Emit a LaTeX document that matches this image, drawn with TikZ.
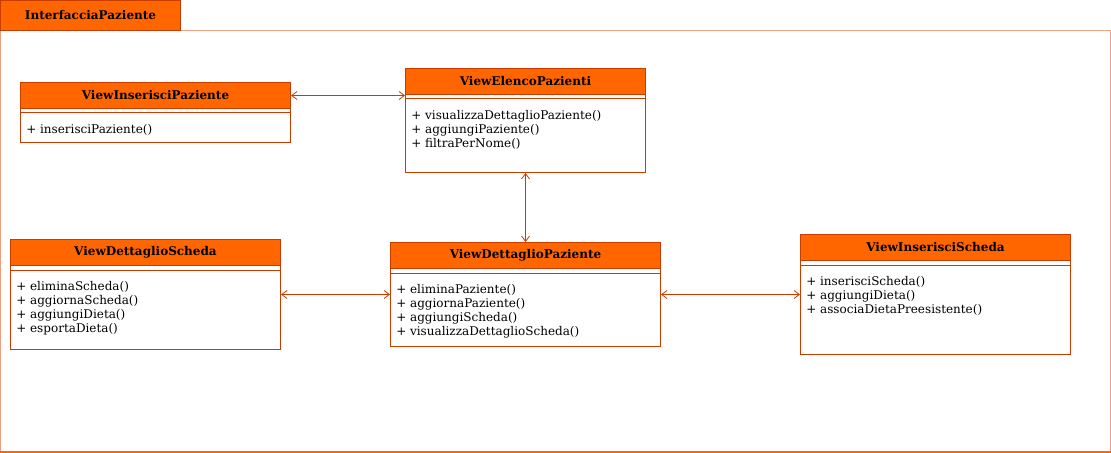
\documentclass[tikz,border=0pt]{standalone}
\usepackage{fontspec}
\setmainfont{DejaVu Serif}
\usetikzlibrary{arrows.meta, positioning}
\definecolor{umlfill}{HTML}{FF6600}
\definecolor{umlline}{HTML}{C83C00}
\definecolor{pkgline}{HTML}{F0A080}

\begin{document}
\begin{tikzpicture}[x=0.75pt, y=-0.75pt,
  cls/.style={rectangle, draw=umlline, fill=white, line width=0.75pt,
    anchor=north west, inner sep=0pt, minimum width=202.5pt},
  head/.style={rectangle, draw=umlline, fill=umlfill, line width=0.75pt,
    minimum height=19.5pt, minimum width=202.5pt, inner sep=0pt, anchor=north,
    font=\fontsize{9}{11}\selectfont\bfseries},
  ops/.style={anchor=north west, align=left, inner sep=0pt,
    font=\fontsize{9}{10.5}\selectfont},
  assoc/.style={draw=umlline, line width=0.6pt,
    {Straight Barb[length=4pt,width=6pt]}-{Straight Barb[length=4pt,width=6pt]}},
  sep/.style={draw=umlline, line width=0.75pt},
]
  \useasboundingbox (0,0) rectangle (1111,453);

  % package frame
  \node[rectangle, draw=pkgline, line width=0.75pt, anchor=north west, inner sep=0pt,
    minimum width=832.5pt, minimum height=315.75pt] (pkg) at (0,30) {};
  \draw[umlfill, line width=1.5pt] (pkg.south west) -- (pkg.south east);
  \node[rectangle, draw=umlline, fill=umlfill, line width=0.75pt, anchor=north west,
    inner sep=0pt, minimum width=135pt, minimum height=22.5pt,
    font=\fontsize{9}{11}\selectfont\bfseries] (pkgTab) at (0,0) {InterfacciaPaziente};

  % ViewInserisciPaziente
  \node[cls, minimum height=45pt] (vip) at (20,82) {};
  \node[head] (vipH) at (vip.north) {ViewInserisciPaziente};
  \draw[sep] ([yshift=-3pt]vipH.south west) -- ([yshift=-3pt]vipH.south east);
  \node[ops] (vipOps) at ([xshift=4.5pt, yshift=-11pt]vipH.south west)
    {+ inserisciPaziente()};

  % ViewElencoPazienti
  \node[cls, minimum width=180pt, minimum height=78pt] (vep) at (405,68) {};
  \node[head, minimum width=180pt] (vepH) at (vep.north) {ViewElencoPazienti};
  \draw[sep] ([yshift=-3pt]vepH.south west) -- ([yshift=-3pt]vepH.south east);
  \node[ops] (vepOps) at ([xshift=4.5pt, yshift=-11pt]vepH.south west)
    {+ visualizzaDettaglioPaziente()\\+ aggiungiPaziente()\\+ filtraPerNome()};

  % ViewDettaglioScheda
  \node[cls, minimum height=82.5pt] (vds) at (10,239) {};
  \node[head] (vdsH) at (vds.north) {ViewDettaglioScheda};
  \draw[sep] ([yshift=-3pt]vdsH.south west) -- ([yshift=-3pt]vdsH.south east);
  \node[ops] (vdsOps) at ([xshift=4.5pt, yshift=-11pt]vdsH.south west)
    {+ eliminaScheda()\\+ aggiornaScheda()\\+ aggiungiDieta()\\+ esportaDieta()};

  % ViewDettaglioPaziente
  \node[cls, minimum height=78pt] (vdp) at (390,242) {};
  \node[head] (vdpH) at (vdp.north) {ViewDettaglioPaziente};
  \draw[sep] ([yshift=-3pt]vdpH.south west) -- ([yshift=-3pt]vdpH.south east);
  \node[ops] (vdpOps) at ([xshift=4.5pt, yshift=-11pt]vdpH.south west)
    {+ eliminaPaziente()\\+ aggiornaPaziente()\\+ aggiungiScheda()\\+ visualizzaDettaglioScheda()};

  % ViewInserisciScheda
  \node[cls, minimum height=90pt] (vis) at (800,234) {};
  \node[head] (visH) at (vis.north) {ViewInserisciScheda};
  \draw[sep] ([yshift=-3pt]visH.south west) -- ([yshift=-3pt]visH.south east);
  \node[ops] (visOps) at ([xshift=4.5pt, yshift=-11pt]visH.south west)
    {+ inserisciScheda()\\+ aggiungiDieta()\\+ associaDietaPreesistente()};

  % associations
  \draw[assoc] (vipH.east) -- (vipH.east -| vep.west);
  \draw[assoc] (vep.south) -- (vdp.north);
  \draw[assoc] (vds.east) -- (vds.east -| vdp.west);
  \draw[assoc] (vdp.east) -- (vdp.east -| vis.west);
\end{tikzpicture}
\end{document}
